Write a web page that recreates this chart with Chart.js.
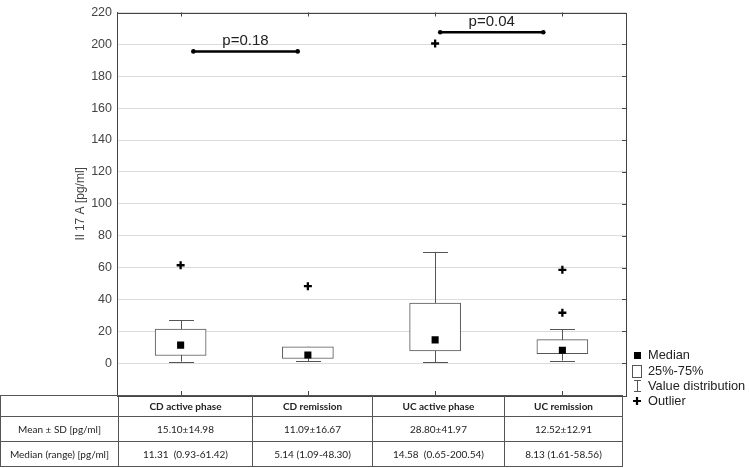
<!DOCTYPE html>
<html>
<head>
<meta charset="utf-8">
<script src="https://cdn.jsdelivr.net/npm/chart.js@4.4.1/dist/chart.umd.min.js"></script>
<style>
body{margin:0;background:#fff;}
#wrap{position:relative;width:749px;height:468px;}
#c{position:absolute;left:0;top:0;}
#tabla{position:absolute;left:0;top:395px;border-collapse:collapse;font-family:Lato,"Open Sans",sans-serif;font-size:10px;color:#222;}
#tabla td{border:1px solid #555;text-align:center;padding:0;}
#tabla tr.h td{height:20px;font-weight:bold;}
#tabla tr.r td{height:24px;}
</style>
</head>
<body>
<div id="wrap">
<canvas id="c" width="749" height="468"></canvas>
<table id="tabla"></table>
</div>
<script>
var grupos=["CD active phase","CD remission","UC active phase","UC remission"];
var q1=[4.8,2.9,7.6,6.0];
var q3=[21.3,10.3,37.6,14.7];
var bigoteMin=[0.93,1.09,0.65,1.61];
var bigoteMax=[27.1,10.3,69.8,21.1];
var medianas=[11.31,5.14,14.58,8.13];
var atipicos=[[61.42],[48.30],[200.54],[58.56,31.6]];
var mediaSd=["15.10±14.98","11.09±16.67","28.80±41.97","12.52±12.91"];
var medianaRango=["11.31  (0.93-61.42)","5.14 (1.09-48.30)","14.58  (0.65-200.54)","8.13 (1.61-58.56)"];
var yTicks=[0,20,40,60,80,100,120,140,160,180,200,220];
// barras de significancia (en unidades de los ejes)
var sigDesde=[0.1,2.04];
var sigHasta=[0.92,2.85];
var sigY=[195.6,207.6];
var sigTexto=["p=0.18","p=0.04"];

// tabla
var anchos=[118,134,120,132,118];
var t=document.getElementById("tabla");
var html='<tr class="h"><td style="width:'+(anchos[0]-1)+'px"></td>';
for(var i=0;i<grupos.length;i++){
  html+='<td style="width:'+(anchos[i+1]-1)+'px">'+grupos[i]+'</td>';
}
html+='</tr><tr class="r"><td>Mean ± SD [pg/ml]</td>';
for(var i=0;i<mediaSd.length;i++) html+='<td>'+mediaSd[i]+'</td>';
html+='</tr><tr class="r"><td>Median (range) [pg/ml]</td>';
for(var i=0;i<medianaRango.length;i++) html+='<td style="white-space:pre">'+medianaRango[i]+'</td>';
html+='</tr>';
t.innerHTML=html;

var cajas=grupos.map(function(g,i){return {x:i,y:[q1[i],q3[i]]};});
var puntosMed=medianas.map(function(m,i){return {x:i,y:m};});
var puntosAt=[];
atipicos.forEach(function(a,i){a.forEach(function(v){puntosAt.push({x:i,y:v});});});

var datasets=[
  {type:"bar",label:"25%-75%",data:cajas,backgroundColor:"#fff",borderColor:"#555",borderWidth:1,borderSkipped:false,barThickness:51,order:5},
  {type:"scatter",label:"Median",data:puntosMed,pointStyle:"rect",pointRadius:5,pointBackgroundColor:"#000",pointBorderWidth:0,order:2},
  {type:"scatter",label:"Outlier",data:puntosAt,pointStyle:"cross",pointRadius:4,pointBorderColor:"#000",pointBackgroundColor:"#000",pointBorderWidth:2.3,order:2}
];
for(var k=0;k<sigTexto.length;k++){
  datasets.push({type:"line",label:sigTexto[k],data:[{x:sigDesde[k],y:sigY[k]},{x:sigHasta[k],y:sigY[k]}],
    borderColor:"#000",borderWidth:2.5,pointRadius:2.3,pointStyle:"circle",pointBackgroundColor:"#000",pointBorderWidth:0,order:1});
}

var extras={
  id:"extras",
  beforeDatasetsDraw:function(chart){
    var ctx=chart.ctx, xs=chart.scales.x, ys=chart.scales.y, a=chart.chartArea;
    ctx.save();
    ctx.strokeStyle="#555";ctx.lineWidth=1;
    // bigotes
    for(var i=0;i<grupos.length;i++){
      var x=Math.round(xs.getPixelForValue(i))+0.5;
      var yl=ys.getPixelForValue(bigoteMin[i]), yh=ys.getPixelForValue(bigoteMax[i]);
      ctx.beginPath();
      ctx.moveTo(x,yl);ctx.lineTo(x,yh);
      ctx.moveTo(x-12.5,Math.round(yl)+0.5);ctx.lineTo(x+12.5,Math.round(yl)+0.5);
      ctx.moveTo(x-12.5,Math.round(yh)+0.5);ctx.lineTo(x+12.5,Math.round(yh)+0.5);
      ctx.stroke();
    }
    // marco y marcas
    ctx.strokeStyle="#444";
    ctx.strokeRect(Math.round(a.left)+0.5,Math.round(a.top)+0.5,Math.round(a.right-a.left),Math.round(a.bottom-a.top));
    ctx.beginPath();
    for(var i=0;i<grupos.length;i++){
      var x=Math.round(xs.getPixelForValue(i))+0.5;
      ctx.moveTo(x,a.top);ctx.lineTo(x,a.top+4);
      ctx.moveTo(x,a.bottom);ctx.lineTo(x,a.bottom-4);
    }
    yTicks.forEach(function(v){
      var y=Math.round(ys.getPixelForValue(v))+0.5;
      ctx.moveTo(a.right,y);ctx.lineTo(a.right-4,y);
    });
    ctx.stroke();
    ctx.restore();
  },
  afterDatasetsDraw:function(chart){
    var ctx=chart.ctx, xs=chart.scales.x, ys=chart.scales.y;
    ctx.save();
    ctx.fillStyle="#222";
    ctx.font="15px 'Liberation Sans', Arial, sans-serif";
    ctx.textAlign="center";ctx.textBaseline="bottom";
    for(var k=0;k<sigTexto.length;k++){
      var xm=(xs.getPixelForValue(sigDesde[k])+xs.getPixelForValue(sigHasta[k]))/2;
      ctx.fillText(sigTexto[k],xm,ys.getPixelForValue(sigY[k])-3);
    }
    ctx.restore();
  },
  afterDraw:function(chart){
    var ctx=chart.ctx;
    ctx.save();
    ctx.font="12.8px 'Liberation Sans', Arial, sans-serif";
    ctx.fillStyle="#222";ctx.textBaseline="middle";ctx.textAlign="left";
    var lx=648, filas=[355,371,386,401];
    var textos=["Median","25%-75%","Value distribution","Outlier"];
    textos.forEach(function(s,i){ctx.fillText(s,lx,filas[i]);});
    // simbolos
    ctx.fillStyle="#000";
    ctx.fillRect(634,352,7,7);
    ctx.strokeStyle="#555";ctx.lineWidth=1;
    ctx.strokeRect(632.5,365.5,9,12);
    ctx.beginPath();
    ctx.moveTo(637.5,380);ctx.lineTo(637.5,392);
    ctx.moveTo(634,380.5);ctx.lineTo(641,380.5);
    ctx.moveTo(634,391.5);ctx.lineTo(641,391.5);
    ctx.stroke();
    ctx.strokeStyle="#000";ctx.lineWidth=2.2;
    ctx.beginPath();
    ctx.moveTo(633,401);ctx.lineTo(641,401);
    ctx.moveTo(637,397);ctx.lineTo(637,405);
    ctx.stroke();
    ctx.restore();
  }
};

var ctx=document.getElementById("c").getContext("2d");
var grafica=new Chart(ctx,{
  type:"bar",
  data:{datasets:datasets},
  options:{
    responsive:false,
    animation:false,
    layout:{padding:{left:0,right:123,top:8,bottom:73}},
    plugins:{legend:{display:false},tooltip:{enabled:false}},
    scales:{
      x:{type:"linear",min:-0.5,max:3.5,display:false,offset:false},
      y:{
        min:-20,max:220,
        afterBuildTicks:function(s){s.ticks=yTicks.map(function(v){return {value:v};});},
        afterFit:function(s){s.width=117;},
        grid:{color:"#dcdcdc",drawTicks:false},
        border:{display:true,color:"#444"},
        ticks:{color:"#444",padding:5,font:{family:"'Liberation Sans', Arial, sans-serif",size:12.5}},
        title:{display:true,text:"Il 17 A [pg/ml]",color:"#444",padding:{top:73,bottom:0},font:{family:"'Liberation Sans', Arial, sans-serif",size:12}}
      }
    }
  },
  plugins:[extras]
});
</script>
</body>
</html>
